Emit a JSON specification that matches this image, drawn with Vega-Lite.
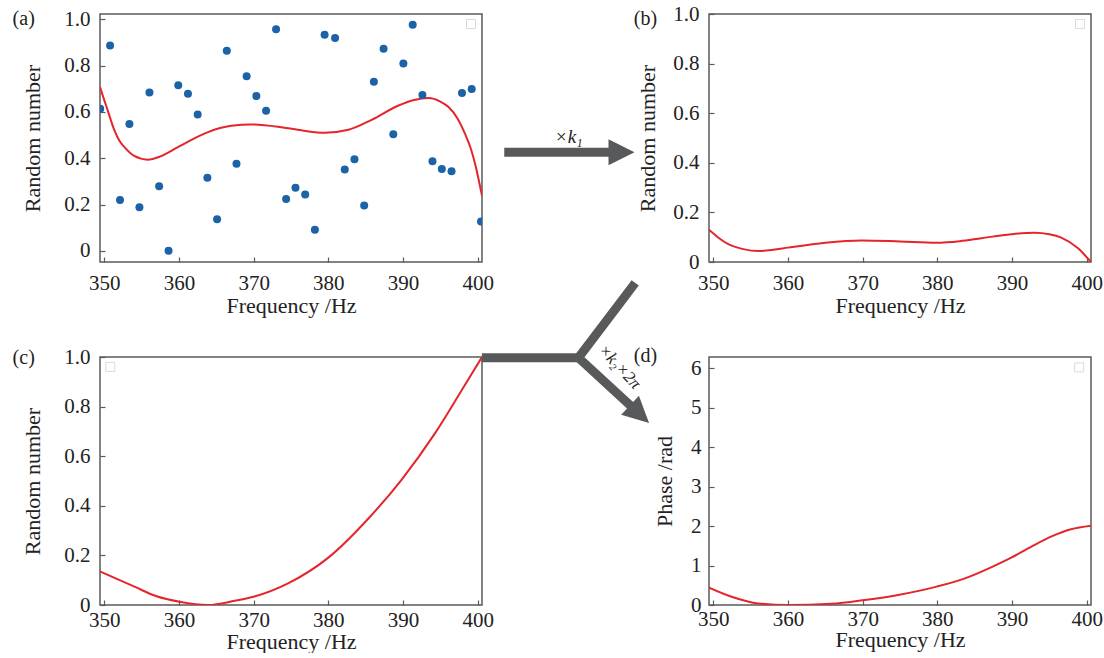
{
  "$schema": "https://vega.github.io/schema/vega-lite/v6.json",
  "padding": {"left": 11, "top": 2, "right": 0, "bottom": 0},
  "background": "white",
  "config": {
    "view": {"stroke": "#5a5a5a", "strokeWidth": 1.5},
    "axis": {
      "domain": false, "grid": false,
      "tickSize": -5, "tickColor": "#5a5a5a", "tickWidth": 1.2,
      "labelFont": "Liberation Serif", "labelFontSize": 21, "labelColor": "#222222",
      "labelPadding": 15, "labelFlush": false, "labelOverlap": false,
      "titleFont": "Liberation Serif", "titleFontSize": 22, "titleFontWeight": "normal", "titleColor": "#222222"
    },
    "axisX": {"titlePadding": 2},
    "axisY": {"titlePadding": 19}
  },
  "datasets": {
    "one": [{}],
    "pts_a": [
      {"f":349.45,"v":0.614},{"f":350.77,"v":0.887},{"f":352.1,"v":0.22},{"f":353.36,"v":0.548},{"f":354.7,"v":0.188},
      {"f":356.04,"v":0.684},{"f":357.34,"v":0.279},{"f":358.6,"v":0.001},{"f":359.9,"v":0.715},{"f":361.2,"v":0.679},
      {"f":362.5,"v":0.589},{"f":363.8,"v":0.316},{"f":365.1,"v":0.137},{"f":366.4,"v":0.864},{"f":367.7,"v":0.376},
      {"f":369.06,"v":0.754},{"f":370.36,"v":0.669},{"f":371.66,"v":0.605},{"f":373.0,"v":0.957},{"f":374.35,"v":0.224},
      {"f":375.6,"v":0.273},{"f":376.9,"v":0.244},{"f":378.2,"v":0.091},{"f":379.5,"v":0.933},{"f":380.9,"v":0.919},
      {"f":382.2,"v":0.352},{"f":383.5,"v":0.396},{"f":384.8,"v":0.196},{"f":386.1,"v":0.73},{"f":387.4,"v":0.873},
      {"f":388.7,"v":0.504},{"f":390.05,"v":0.809},{"f":391.3,"v":0.977},{"f":392.6,"v":0.673},{"f":393.95,"v":0.387},
      {"f":395.2,"v":0.354},{"f":396.5,"v":0.344},{"f":397.9,"v":0.682},{"f":399.2,"v":0.699},{"f":400.45,"v":0.127}
    ],
    "fit_a": [
      {"f":349.42,"v":0.708},{"f":350.0,"v":0.65},{"f":350.45,"v":0.607},{"f":351.3,"v":0.525},{"f":352.0,"v":0.477},{"f":352.7,"v":0.448},{"f":354.0,"v":0.41},
      {"f":355.8,"v":0.394},{"f":357.5,"v":0.408},{"f":359.85,"v":0.448},{"f":362.0,"v":0.485},{"f":363.9,"v":0.513},{"f":367.0,"v":0.54},
      {"f":369.7,"v":0.546},{"f":373.7,"v":0.534},{"f":376.5,"v":0.52},{"f":379.5,"v":0.51},{"f":382.7,"v":0.523},{"f":385.8,"v":0.566},
      {"f":389.4,"v":0.628},{"f":391.5,"v":0.652},{"f":393.4,"v":0.66},{"f":395.0,"v":0.645},{"f":396.1,"v":0.621},{"f":397.3,"v":0.572},{"f":398.3,"v":0.506},{"f":399.1,"v":0.44},{"f":399.7,"v":0.37},
      {"f":400.58,"v":0.238}
    ],
    "curve_b": [
      {"f":349.42,"v":0.13},{"f":350.6,"v":0.1},{"f":352.0,"v":0.072},{"f":354.0,"v":0.052},{"f":356.0,"v":0.044},{"f":358.0,"v":0.049},{"f":360.0,"v":0.058},{"f":365.0,"v":0.078},
      {"f":369.85,"v":0.087},{"f":375.0,"v":0.083},{"f":379.9,"v":0.078},{"f":383.0,"v":0.084},{"f":385.9,"v":0.096},{"f":389.9,"v":0.112},
      {"f":393.0,"v":0.118},{"f":395.0,"v":0.112},{"f":396.6,"v":0.098},{"f":398.8,"v":0.056},{"f":400.58,"v":0.0}
    ],
    "curve_c": [
      {"f":349.42,"v":0.135},{"f":354.03,"v":0.074},{"f":357.0,"v":0.035},{"f":360.07,"v":0.013},{"f":363.9,"v":0.0},
      {"f":367.46,"v":0.017},{"f":370.1,"v":0.034},{"f":374.6,"v":0.087},{"f":380.0,"v":0.191},{"f":385.4,"v":0.35},
      {"f":389.8,"v":0.505},{"f":394.3,"v":0.693},{"f":397.9,"v":0.868},{"f":400.58,"v":1.0}
    ],
    "curve_d": [
      {"f":349.42,"v":0.44},{"f":352.45,"v":0.21},{"f":356.0,"v":0.04},{"f":360.0,"v":0.0},{"f":365.8,"v":0.03},
      {"f":370.3,"v":0.127},{"f":374.75,"v":0.254},{"f":379.9,"v":0.465},{"f":383.7,"v":0.676},{"f":387.2,"v":0.955},
      {"f":389.9,"v":1.2},{"f":392.6,"v":1.48},{"f":395.3,"v":1.74},{"f":397.9,"v":1.92},{"f":400.58,"v":2.01}
    ],
    "arrow1": [{"seg":"s","o":1,"f":403.56,"v":0.426},{"seg":"s","o":2,"f":418.8,"v":0.426}],
    "arrow2": [
      {"seg":"h","o":1,"f":400.56,"v":0.997},{"seg":"h","o":2,"f":413.5,"v":0.997},
      {"seg":"y","o":1,"f":421.1,"v":1.299},{"seg":"y","o":2,"f":413.5,"v":0.997},{"seg":"y","o":3,"f":421.5,"v":0.775}
    ]
  },
  "columns": 2,
  "bounds": "flush",
  "spacing": {"row": 95, "column": 227},
  "concat": [
    {
      "width": 382, "height": 248,
      "layer": [
        {
          "data": {"name": "fit_a"},
          "mark": {"type": "line", "color": "#e4252b", "strokeWidth": 2, "interpolate": "monotone", "clip": true},
          "encoding": {
            "x": {"field": "f", "type": "quantitative", "scale": {"domain": [349.42, 400.58], "nice": false, "zero": false},
                  "axis": {"values": [350, 360, 370, 380, 390, 400], "title": "Frequency /Hz"}},
            "y": {"field": "v", "type": "quantitative", "scale": {"domain": [-0.048, 1.023], "nice": false, "zero": false},
                  "axis": {"values": [0, 0.2, 0.4, 0.6, 0.8, 1], "title": "Random number",
                           "labelExpr": "datum.value == 0 ? '0' : format(datum.value, '.1f')"}}
          }
        },
        {
          "data": {"name": "pts_a"},
          "mark": {"type": "circle", "size": 64, "color": "#1b62a6", "opacity": 1, "clip": true},
          "encoding": {"x": {"field": "f", "type": "quantitative"}, "y": {"field": "v", "type": "quantitative"}}
        },
        {
          "data": {"name": "one"},
          "mark": {"type": "point", "shape": "square", "size": 81, "filled": false, "stroke": "#d5dbe2", "strokeWidth": 1, "opacity": 1},
          "encoding": {"x": {"datum": 399.1}, "y": {"datum": 0.98}}
        },
        {
          "data": {"name": "arrow1"},
          "mark": {"type": "line", "color": "#58595b", "strokeWidth": 9, "strokeCap": "butt"},
          "encoding": {"x": {"field": "f", "type": "quantitative"}, "y": {"field": "v", "type": "quantitative"},
                       "detail": {"field": "seg"}, "order": {"field": "o"}}
        },
        {
          "data": {"name": "one"},
          "mark": {"type": "point", "shape": "M-1,-1L1,0L-1,1Z", "size": 676, "filled": true, "color": "#58595b", "opacity": 1, "strokeWidth": 0},
          "encoding": {"x": {"datum": 419.26}, "y": {"datum": 0.426}}
        },
        {
          "data": {"name": "one"},
          "mark": {"type": "text", "text": "×k₁", "font": "Liberation Serif", "fontStyle": "italic", "fontSize": 19, "color": "#222222"},
          "encoding": {"x": {"datum": 412.2}, "y": {"datum": 0.491}}
        },
        {
          "data": {"name": "one"},
          "mark": {"type": "text", "text": "(a)", "font": "Liberation Serif", "fontSize": 20, "color": "#222222"},
          "encoding": {"x": {"datum": 339.2}, "y": {"datum": 1.0}}
        }
      ]
    },
    {
      "width": 382, "height": 248,
      "layer": [
        {
          "data": {"name": "curve_b"},
          "mark": {"type": "line", "color": "#e4252b", "strokeWidth": 2, "interpolate": "monotone", "clip": true},
          "encoding": {
            "x": {"field": "f", "type": "quantitative", "scale": {"domain": [349.42, 400.58], "nice": false, "zero": false},
                  "axis": {"values": [350, 360, 370, 380, 390, 400], "title": "Frequency /Hz"}},
            "y": {"field": "v", "type": "quantitative", "scale": {"domain": [0, 1], "nice": false, "zero": false},
                  "axis": {"values": [0, 0.2, 0.4, 0.6, 0.8, 1], "title": "Random number", "titlePadding": 13,
                           "labelExpr": "datum.value == 0 ? '0' : format(datum.value, '.1f')"}}
          }
        },
        {
          "data": {"name": "one"},
          "mark": {"type": "point", "shape": "square", "size": 81, "filled": false, "stroke": "#d5dbe2", "strokeWidth": 1, "opacity": 1},
          "encoding": {"x": {"datum": 399.1}, "y": {"datum": 0.96}}
        },
        {
          "data": {"name": "one"},
          "mark": {"type": "text", "text": "(b)", "font": "Liberation Serif", "fontSize": 20, "color": "#222222"},
          "encoding": {"x": {"datum": 340.9}, "y": {"datum": 0.98}}
        }
      ]
    },
    {
      "width": 382, "height": 248,
      "layer": [
        {
          "data": {"name": "curve_c"},
          "mark": {"type": "line", "color": "#e4252b", "strokeWidth": 2, "interpolate": "monotone", "clip": true},
          "encoding": {
            "x": {"field": "f", "type": "quantitative", "scale": {"domain": [349.42, 400.58], "nice": false, "zero": false},
                  "axis": {"values": [350, 360, 370, 380, 390, 400], "title": "Frequency /Hz", "labelPadding": 9, "titlePadding": 1}},
            "y": {"field": "v", "type": "quantitative", "scale": {"domain": [0, 1], "nice": false, "zero": false},
                  "axis": {"values": [0, 0.2, 0.4, 0.6, 0.8, 1], "title": "Random number",
                           "labelExpr": "datum.value == 0 ? '0' : format(datum.value, '.1f')"}}
          }
        },
        {
          "data": {"name": "one"},
          "mark": {"type": "point", "shape": "square", "size": 81, "filled": false, "stroke": "#d5dbe2", "strokeWidth": 1, "opacity": 1},
          "encoding": {"x": {"datum": 350.8}, "y": {"datum": 0.96}}
        },
        {
          "data": {"name": "arrow2"},
          "mark": {"type": "line", "color": "#58595b", "strokeWidth": 9, "strokeCap": "butt", "strokeJoin": "miter"},
          "encoding": {"x": {"field": "f", "type": "quantitative"}, "y": {"field": "v", "type": "quantitative"},
                       "detail": {"field": "seg"}, "order": {"field": "o"}}
        },
        {
          "data": {"name": "one"},
          "mark": {"type": "point", "shape": "M-1,-1L1,0L-1,1Z", "size": 676, "filled": true, "color": "#58595b", "opacity": 1, "strokeWidth": 0, "angle": 43},
          "encoding": {"x": {"datum": 421.68}, "y": {"datum": 0.77}}
        },
        {
          "data": {"name": "one"},
          "mark": {"type": "text", "text": "×k₂×2π", "font": "Liberation Serif", "fontStyle": "italic", "fontSize": 17, "color": "#222222", "angle": 47},
          "encoding": {"x": {"datum": 419.0}, "y": {"datum": 0.96}}
        },
        {
          "data": {"name": "one"},
          "mark": {"type": "text", "text": "(c)", "font": "Liberation Serif", "fontSize": 20, "color": "#222222"},
          "encoding": {"x": {"datum": 339.2}, "y": {"datum": 0.995}}
        }
      ]
    },
    {
      "width": 382, "height": 248,
      "layer": [
        {
          "data": {"name": "curve_d"},
          "mark": {"type": "line", "color": "#e4252b", "strokeWidth": 2, "interpolate": "monotone", "clip": true},
          "encoding": {
            "x": {"field": "f", "type": "quantitative", "scale": {"domain": [349.42, 400.58], "nice": false, "zero": false},
                  "axis": {"values": [350, 360, 370, 380, 390, 400], "title": "Frequency /Hz", "labelPadding": 8, "titlePadding": 0}},
            "y": {"field": "v", "type": "quantitative", "scale": {"domain": [0, 6.2832], "nice": false, "zero": false},
                  "axis": {"values": [0, 1, 2, 3, 4, 5, 6], "title": "Phase /rad", "format": "d", "titlePadding": 14, "labelPadding": 13}}
          }
        },
        {
          "data": {"name": "one"},
          "mark": {"type": "point", "shape": "square", "size": 81, "filled": false, "stroke": "#d5dbe2", "strokeWidth": 1, "opacity": 1},
          "encoding": {"x": {"datum": 399.0}, "y": {"datum": 6.02}}
        },
        {
          "data": {"name": "one"},
          "mark": {"type": "text", "text": "(d)", "font": "Liberation Serif", "fontSize": 20, "color": "#222222"},
          "encoding": {"x": {"datum": 340.9}, "y": {"datum": 6.3}}
        }
      ]
    }
  ]
}
